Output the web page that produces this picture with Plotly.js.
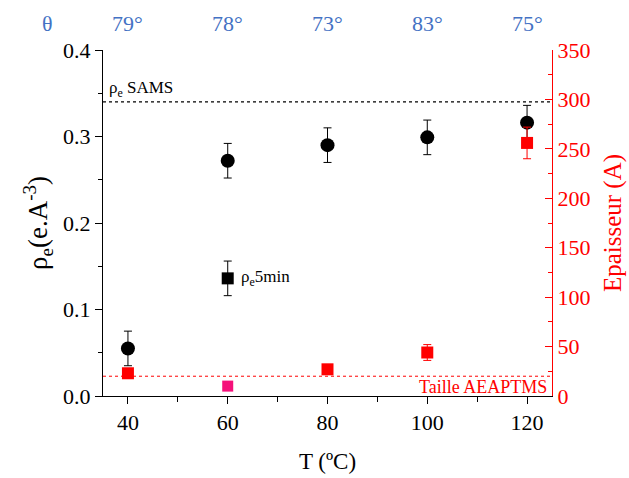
<!DOCTYPE html>
<html>
<head>
<meta charset="utf-8">
<script src="https://cdn.plot.ly/plotly-3.0.1.min.js"></script>
<style>html,body{margin:0;padding:0;background:#fff;}#chart{width:629px;height:478px;}</style>
</head>
<body>
<div id="chart"></div>
<script>
// ---- data ----
const temps = [40, 60, 80, 100, 120];
const rhoValues = [0.055, 0.272, 0.290, 0.299, 0.316];
const rhoErrors = [0.02, 0.02, 0.02, 0.02, 0.02];
const thickTemps = [40, 80, 100, 120];
const thickValues = [23, 27, 44, 256];
const thickErrors = [3, 3, 8, 16];
const pinkTemps = [60];
const pinkValues = [10];
const rho5minTemps = [60];
const rho5minValues = [0.136];
const rho5minErrors = [0.02];
const thetaLabels = ['79°', '78°', '73°', '83°', '75°'];
const rhoSAMS = 0.34;
const tailleAEAPTMS = 20;

const FONT = '"Liberation Serif", "Times New Roman", serif';
const RED = '#ff0000';
const BLUE = '#4472c4';

const traces = [
  {
    x: temps, y: rhoValues, type: 'scatter', mode: 'markers',
    marker: {symbol: 'circle', size: 14, color: '#000'},
    error_y: {type: 'data', array: rhoErrors, visible: true, color: '#000', thickness: 1, width: 4},
    yaxis: 'y', showlegend: false
  },
  {
    x: rho5minTemps, y: rho5minValues, type: 'scatter', mode: 'markers',
    marker: {symbol: 'square', size: 12, color: '#000'},
    error_y: {type: 'data', array: rho5minErrors, visible: true, color: '#000', thickness: 1, width: 4},
    yaxis: 'y', showlegend: false
  },
  {
    x: thickTemps, y: thickValues, type: 'scatter', mode: 'markers',
    marker: {symbol: 'square', size: 12, color: RED},
    error_y: {type: 'data', array: thickErrors, visible: true, color: RED, thickness: 1, width: 4},
    yaxis: 'y2', showlegend: false
  },
  {
    x: pinkTemps, y: pinkValues, type: 'scatter', mode: 'markers',
    marker: {symbol: 'square', size: 11, color: '#f5107a'},
    yaxis: 'y2', showlegend: false
  }
];

const annotations = thetaLabels.map((t, i) => ({
  x: temps[i], xref: 'x', y: 1.078, yref: 'paper', text: t, showarrow: false,
  font: {family: FONT, size: 22, color: BLUE}, xanchor: 'center', yanchor: 'middle'
}));
annotations.push({
  x: -0.123, xref: 'paper', y: 1.078, yref: 'paper', text: 'θ', showarrow: false,
  font: {family: FONT, size: 22, color: BLUE}, xanchor: 'center', yanchor: 'middle'
});
annotations.push({
  x: 0.008, xref: 'paper', y: rhoSAMS, yref: 'y', text: 'ρ<sub>e</sub> SAMS', showarrow: false,
  font: {family: FONT, size: 17, color: '#000'}, xanchor: 'left', yanchor: 'bottom', yshift: 0
});
annotations.push({
  x: rho5minTemps[0], xref: 'x', y: rho5minValues[0], yref: 'y', text: 'ρ<sub>e</sub>5min', showarrow: false,
  font: {family: FONT, size: 17, color: '#000'}, xanchor: 'left', yanchor: 'middle', xshift: 11
});
annotations.push({
  x: 0.993, xref: 'paper', y: tailleAEAPTMS, yref: 'y2', text: 'Taille AEAPTMS', showarrow: false,
  font: {family: FONT, size: 18, color: RED}, xanchor: 'right', yanchor: 'top', yshift: 1
});

const layout = {
  width: 629, height: 478,
  margin: {l: 103, r: 77, t: 50, b: 82},
  paper_bgcolor: '#fff', plot_bgcolor: '#fff',
  font: {family: FONT, color: '#000', size: 22},
  showlegend: false,
  xaxis: {
    range: [35, 125], dtick: 20, tick0: 40,
    showgrid: false, zeroline: false, showline: true, linecolor: '#000', linewidth: 1,
    ticks: 'outside', ticklen: 7, tickcolor: '#000',
    minor: {dtick: 10, ticks: 'outside', ticklen: 5, tickcolor: '#000'},
    tickfont: {family: FONT, size: 22, color: '#000'},
    title: {text: 'T (ºC)', font: {family: FONT, size: 23, color: '#000'}, standoff: 18}
  },
  yaxis: {
    range: [0, 0.4], dtick: 0.1, tickformat: '.1f',
    showgrid: false, zeroline: false, showline: true, linecolor: '#000', linewidth: 1,
    ticks: 'outside', ticklen: 7, tickcolor: '#000',
    minor: {dtick: 0.05, ticks: 'outside', ticklen: 4, tickcolor: '#000'},
    tickfont: {family: FONT, size: 22, color: '#000'},
    title: {text: 'ρ<sub>e</sub>(e.A<sup>-3</sup>)', font: {family: FONT, size: 27, color: '#000'}, standoff: 7}
  },
  yaxis2: {
    range: [0, 350], dtick: 50, overlaying: 'y', side: 'right',
    showgrid: false, zeroline: false, showline: true, linecolor: RED, linewidth: 1,
    ticks: 'inside', ticklen: 7, tickcolor: RED,
    minor: {dtick: 25, ticks: 'inside', ticklen: 4, tickcolor: RED},
    tickfont: {family: FONT, size: 22, color: RED},
    title: {text: 'Epaisseur (A)', font: {family: FONT, size: 25, color: RED}, standoff: 14}
  },
  shapes: [
    {type: 'line', xref: 'paper', x0: 0, x1: 1, yref: 'y', y0: rhoSAMS, y1: rhoSAMS,
     line: {color: '#000', width: 1.2, dash: 'dot'}},
    {type: 'line', xref: 'paper', x0: 0, x1: 1, yref: 'y2', y0: tailleAEAPTMS, y1: tailleAEAPTMS,
     line: {color: RED, width: 1, dash: 'dot'}}
  ],
  annotations: annotations
};

Plotly.newPlot('chart', traces, layout, {displayModeBar: false, staticPlot: true});
</script>
</body>
</html>
